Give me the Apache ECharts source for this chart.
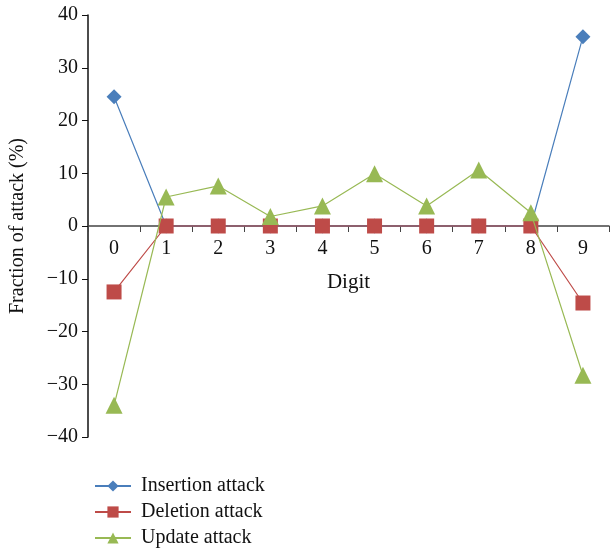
<!DOCTYPE html>
<html><head><meta charset="utf-8">
<script src="https://cdn.jsdelivr.net/npm/echarts@6/dist/echarts.min.js"></script>
<style>html,body{margin:0;padding:0;background:#fff}#c{width:610px;height:552px}</style>
</head><body><div id="c"></div>
<script>
var categories = ['0','1','2','3','4','5','6','7','8','9'];
var insertion = [24.5, 0, 0, 0, 0, 0, 0, 0, 0, 35.9];
var deletion = [-12.5, 0, 0, 0, 0, 0, 0, 0, 0, -14.6];
var update = [-34, 5.5, 7.6, 1.8, 3.8, 9.9, 3.8, 10.6, 2.5, -28.3];
var yTicks = [-40, -30, -20, -10, 0, 10, 20, 30, 40];

var font = 'Liberation Serif';
var gridTop = 15, gridBottom = 115, H = 552;
var plotH = H - gridTop - gridBottom;
var yMin = yTicks[0], yMax = yTicks[yTicks.length - 1];
var zeroOffset = plotH * (0 - yMin) / (yMax - yMin);
var chart = echarts.init(document.getElementById('c'));
chart.setOption({
  animation: false,
  textStyle: {fontFamily: font},
  grid: {left: 88, top: gridTop, right: 1, bottom: gridBottom, containLabel: false, outerBoundsMode: 'none'},
  legend: {
    orient: 'vertical', left: 94, top: 476, height: 76, itemGap: 6, itemWidth: 36, itemHeight: 14,
    padding: 0,
    textStyle: {fontFamily: font, fontSize: 20, color: '#111', padding: [0, 0, 0, 5]},
    data: ['Insertion attack', 'Deletion attack', 'Update attack']
  },
  xAxis: {
    type: 'category', data: categories, boundaryGap: true,
    position: 'bottom', offset: -zeroOffset,
    name: 'Digit', nameLocation: 'middle', nameGap: 46,
    nameTextStyle: {fontFamily: font, fontSize: 21, color: '#111'},
    axisLine: {onZero: false, lineStyle: {color: '#444', width: 1.5}},
    axisTick: {show: true, alignWithLabel: false, inside: false, length: 6, lineStyle: {color: '#444'}},
    axisLabel: {fontFamily: font, fontSize: 20, color: '#111', margin: 13}
  },
  yAxis: {
    type: 'value', min: yMin, max: yMax, interval: 10,
    name: 'Fraction of attack (%)', nameLocation: 'middle', nameGap: 60,
    nameTextStyle: {fontFamily: font, fontSize: 20, color: '#111'},
    axisLine: {show: true, lineStyle: {color: '#111', width: 1.5}},
    axisTick: {show: true, length: 6, lineStyle: {color: '#111'}},
    splitLine: {show: false},
    axisLabel: {fontFamily: font, fontSize: 20, color: '#111', margin: 10,
      formatter: function (v) { return v < 0 ? '\u2212' + Math.abs(v) : String(v); }}
  },
  series: [
    {name: 'Insertion attack', type: 'line', data: insertion, symbol: 'diamond', symbolSize: 15,
      itemStyle: {color: '#4a7ebb'}, lineStyle: {color: '#4a7ebb', width: 1.2}, z: 2},
    {name: 'Deletion attack', type: 'line', data: deletion, symbol: 'rect', symbolSize: 15,
      itemStyle: {color: '#be4b48'}, lineStyle: {color: '#be4b48', width: 1.2}, z: 3},
    {name: 'Update attack', type: 'line', data: update, symbol: 'triangle', symbolSize: 17,
      itemStyle: {color: '#98b954'}, lineStyle: {color: '#98b954', width: 1.2}, z: 4}
  ]
});
</script></body></html>
